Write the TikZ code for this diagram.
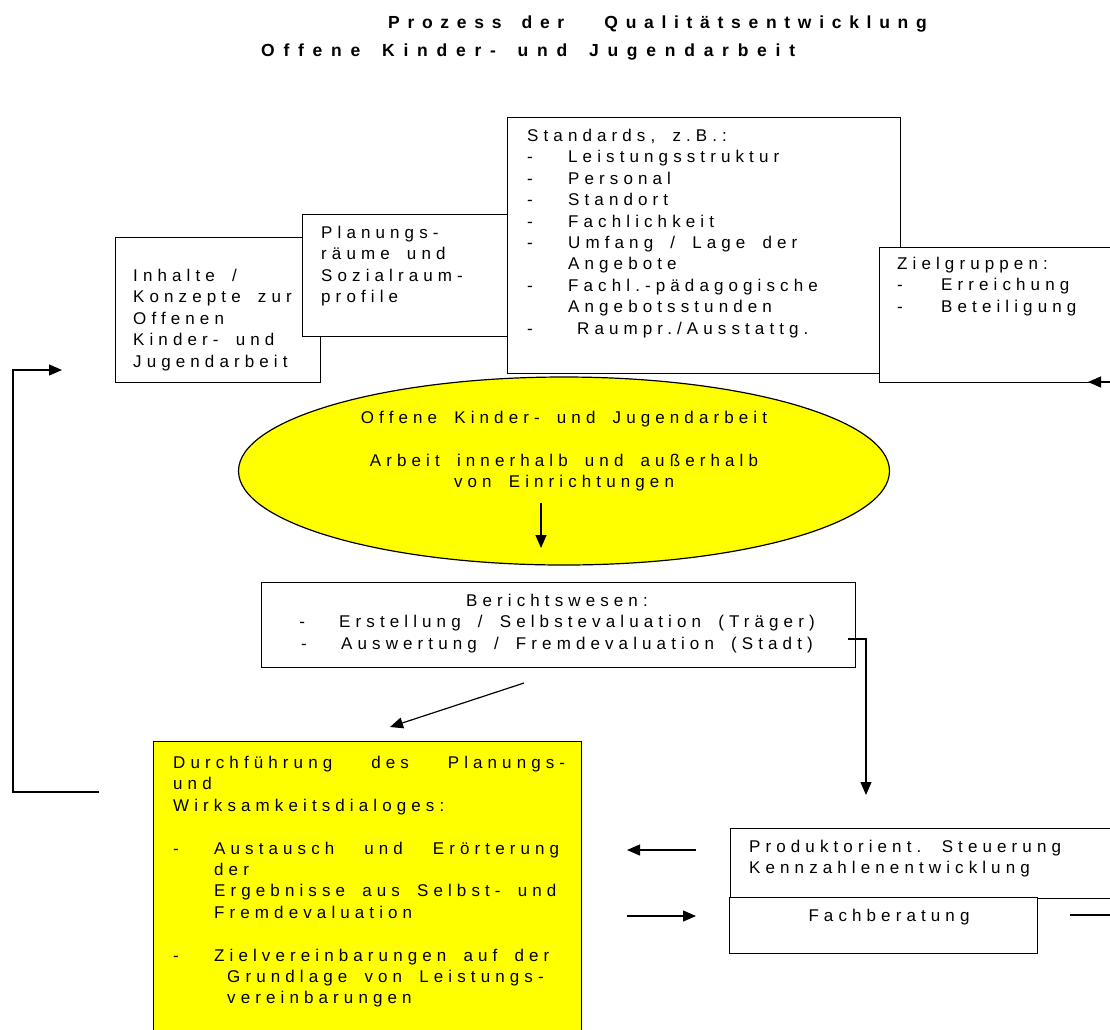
\documentclass[tikz,border=0pt]{standalone}
\usepackage{fontspec}
\setmainfont{Liberation Sans}[LetterSpace=30,WordSpace={1.75,3,1}]
\newfontfamily\titlefont{Liberation Sans}[LetterSpace=50,WordSpace=1.6]
\usetikzlibrary{shapes.geometric,arrows.meta}

\definecolor{gelb}{RGB}{255,255,0}
\newcommand{\boxfont}{\fontsize{17}{21.4}\selectfont}
\newcommand{\bul}[1]{\makebox[41pt][l]{-}#1}
\newcommand{\zg}[1]{\makebox[44pt][l]{-}#1}

\tikzset{
  pfeil/.style={-{Triangle[length=13pt,width=11pt]},line width=1.2pt},
  titel/.style={anchor=base west,inner sep=0pt,font=\titlefont\bfseries\fontsize{17.5}{20}\selectfont}
}

\begin{document}
\begin{tikzpicture}[x=1pt,y=-1pt]
  \useasboundingbox (0,0) rectangle (1110,1029);
  \clip (0,0) rectangle (1110,1029);

  \begin{scope}[every node/.style={draw,fill=white,line width=1.2pt,anchor=north west,inner sep=0pt}]
    \node[minimum width=205pt,minimum height=145pt] (inh) at (115,237) {};
    \node[minimum width=215pt,minimum height=122pt] (plan) at (302,214) {};
    \node[minimum width=393pt,minimum height=256pt] (std) at (507,117) {};
    \node[minimum width=260pt,minimum height=135pt] (ziel) at (879,247) {};
    \node[ellipse,fill=gelb,anchor=center,minimum width=651pt,minimum height=188pt] (okja) at (564,471) {};
    \node[minimum width=594pt,minimum height=85pt] (ber) at (261,582) {};
    \node[fill=gelb,minimum width=428pt,minimum height=320pt] (dfg) at (153,741) {};
    \node[minimum width=400pt,minimum height=70pt] (prod) at (730,828) {};
    \node[minimum width=308pt,minimum height=56pt] (fach) at (729,897) {};
  \end{scope}

  \node[titel] (t1) at (388,28) {\addfontfeature{LetterSpace=44}Prozess der\ \ Qualitätsentwicklung};
  \node[titel] (t2) at (261,56) {Offene Kinder- und Jugendarbeit};

  \begin{scope}[every node/.style={anchor=north west,align=left,inner sep=0pt,font=\boxfont}]
    \node (inhT) at (133,269) {Inhalte /\\Konzepte zur\\Offenen\\Kinder- und\\Jugendarbeit};
    \node (planT) at (321,226) {Planungs-\\räume und\\Sozialraum-\\profile};
    \node (stdT) at (527,129) {Standards, z.B.:\\
      \bul{Leistungsstruktur}\\
      \bul{Personal}\\
      \bul{Standort}\\
      \bul{Fachlichkeit}\\
      \bul{Umfang / Lage der}\\
      \hspace*{41pt}Angebote\\
      \bul{Fachl.-pädagogische}\\
      \hspace*{41pt}Angebotsstunden\\
      \bul{\hspace*{9pt}Raumpr./Ausstattg.}};
    \node (zielT) at (897,257) {Zielgruppen:\\\zg{Erreichung}\\\zg{Beteiligung}};
    \node[anchor=north,align=center] (okjaT) at (564,411) {Offene Kinder- und Jugendarbeit\\[21.4pt]Arbeit innerhalb und außerhalb\\von Einrichtungen};
    \node[anchor=north,align=center] (berT) at (557,594) {Berichtswesen:\\\makebox[40pt][l]{-}Erstellung / Selbstevaluation (Träger)\\\makebox[40pt][l]{-}Auswertung / Fremdevaluation (Stadt)};
    \node (dfgT) at (173,756) {\makebox[392pt][s]{Durchführung des Planungs-}\\und\\Wirksamkeitsdialoges:\\[21.4pt]
      \bul{\makebox[345pt][s]{Austausch und Erörterung}}\\
      \hspace*{41pt}der\\
      \hspace*{41pt}Ergebnisse aus Selbst- und\\
      \hspace*{41pt}Fremdevaluation\\[21.4pt]
      \bul{Zielvereinbarungen auf der}\\
      \hspace*{54pt}Grundlage von Leistungs-\\
      \hspace*{54pt}vereinbarungen};
    \node (prodT) at (749,840) {Produktorient. Steuerung\\Kennzahlenentwicklung};
    \node[anchor=north] (fachT) at (889,909) {Fachberatung};
  \end{scope}

  \coordinate (p1) at (541,503);
  \coordinate (p2) at (541,548);
  \coordinate (q1) at (524,683);
  \coordinate (q2) at (390,727);
  \coordinate (r1) at (848,639);
  \coordinate (r2) at (866,795);
  \coordinate (s1) at (99,792);
  \coordinate (s0) at (13,792);
  \coordinate (s2) at (62,370);
  \coordinate (z1) at (1110,382);
  \coordinate (z2) at (1088,382);
  \coordinate (u1) at (696,850);
  \coordinate (u2) at (627,850);
  \coordinate (v1) at (627,916);
  \coordinate (v2) at (696,916);
  \coordinate (w1) at (1070,915);
  \coordinate (w2) at (1110,915);

  \draw[pfeil] (p1) -- (p2);
  \draw[pfeil] (q1) -- (q2);
  \draw[pfeil] (r1) -| (r2);
  \draw[pfeil] (s1) -- (s0) |- (s2);
  \draw[pfeil] (z1) -- (z2);
  \draw[pfeil] (u1) -- (u2);
  \draw[pfeil] (v1) -- (v2);
  \draw[line width=1.2pt] (w1) -- (w2);

\end{tikzpicture}
\end{document}
